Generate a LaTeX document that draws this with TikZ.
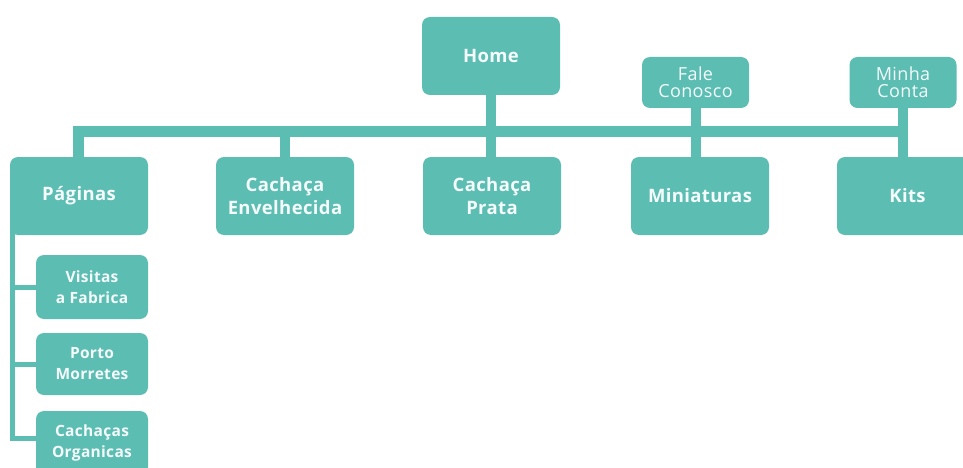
\documentclass[tikz,border=0pt]{standalone}
\usepackage{fontspec}
\setmainfont{Open Sans}[LetterSpace=2]
\definecolor{tealbox}{HTML}{5CBDB3}
\definecolor{boxtext}{HTML}{F4FBFA}
\begin{document}
\begin{tikzpicture}[x=1pt,y=-1pt,
  box/.style={fill=tealbox, rounded corners=8pt, text=boxtext, align=center,
    inner sep=0pt, minimum width=138pt, minimum height=78pt,
    font=\bfseries\fontsize{18.5}{23}\selectfont},
  smallbox/.style={box, minimum width=107pt, minimum height=51pt,
    font=\mdseries\fontsize{18}{17}\selectfont},
  subbox/.style={box, minimum width=112pt, minimum height=63pt,
    font=\bfseries\fontsize{15.5}{21}\selectfont},
  conn/.style={draw=tealbox, line width=10pt},
  thinconn/.style={draw=tealbox, line width=5pt}]
\useasboundingbox (0,0) rectangle (963,468);
\clip (0,0) rectangle (963,468);
% nodes
\node[box] (home) at (491,56) {Home};
\node[smallbox] (fale) at (695.5,82.5) {Fale\\Conosco};
\node[smallbox] (minha) at (903,82.5) {Minha\\Conta};
\node[box] (pag) at (79,196) {Páginas};
\node[box] (env) at (285,196) {Cachaça\\Envelhecida};
\node[box] (prata) at (492,196) {Cachaça\\Prata};
\node[box] (mini) at (700,196) {Miniaturas};
\node[box, minimum width=141pt] (kits) at (907.5,196) {Kits};
\node[subbox, minimum height=64pt] (sub1) at (92,287) {Visitas\\a Fabrica};
\node[subbox, minimum height=62pt] (sub2) at (92,364) {Porto\\Morretes};
\node[subbox, minimum height=64pt] (sub3) at (92,443) {Cachaças\\Organicas};
% connectors
\coordinate (bar) at (0,131.5);
\draw[conn] (home.south) -- (home.south |- prata.north);
\draw[conn] (fale.south) -- (fale.south |- mini.north);
\draw[conn] (minha.south) -- (minha.south |- kits.north);
\draw[conn, line width=11pt, line join=miter] ([xshift=-1pt]pag.north) -- ([xshift=-1pt]pag.north |- bar) -- ([xshift=5pt]minha.south |- bar);
\draw[conn] (env.north) -- (env.north |- bar);
\coordinate (pl) at ([xshift=2.5pt,yshift=8pt]pag.south west);
\draw[thinconn, line join=miter] (pl) |- ([yshift=5pt]sub3.west);
\draw[thinconn] (pl |- sub1.west) -- (sub1.west);
\draw[thinconn] (pl |- sub2.west) -- (sub2.west);
\end{tikzpicture}
\end{document}
